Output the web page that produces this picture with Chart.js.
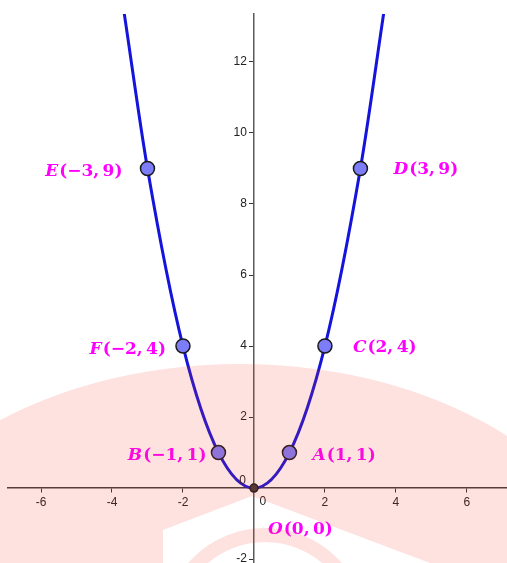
<!DOCTYPE html>
<html lang="en">
<head>
<meta charset="utf-8">
<title>y = x^2</title>
<script src="https://cdn.jsdelivr.net/npm/chart.js@4.4.1/dist/chart.umd.min.js"></script>
<style>
  html, body { margin: 0; padding: 0; background: #fff; }
  #wrap { width: 507px; height: 563px; position: relative; }
</style>
<script>

// marked points on the parabola
var pointNames = ['O', 'A', 'B', 'C', 'D', 'E', 'F'];
var pointX = [0, 1, -1, 2, 3, -3, -2];
var pointY = [0, 1, 1, 4, 9, 9, 4];

// the curve, read at the marked points and where it leaves the top edge
var curveX = [-3.66, -3, -2, -1, 0, 1, 2, 3, 3.66];
var curveY = [13.4, 9, 4, 1, 0, 1, 4, 9, 13.4];

// axes
var xTickValues = [-6, -4, -2, 0, 2, 4, 6];
var yTickValues = [-2, 0, 2, 4, 6, 8, 10, 12];
var xRange = [-6.93, 7.13];
var yRange = [-2.11, 13.35];

var MAGENTA = '#ff00ff';
var LABEL_FONT = '17px "DejaVu Serif"';
var TICK_FONT = '12px "Liberation Sans"';

// label placement: [side, dx, dy] in pixels from the point
var labelPlace = {
    O: ['left', 14, 42],
    A: ['left', 23, 3],
    B: ['right', -12, 3],
    C: ['left', 28, 2],
    D: ['left', 33, 1],
    E: ['right', -25, 3],
    F: ['right', -17, 4]
};

function fmt(v) {
    return v < 0 ? '\u2212' + (-v) : '' + v;
}

function drawLabel(ctx, i, x, y, side) {
    var name = pointNames[i];
    var rest = '(' + fmt(pointX[i]) + ',\u2009' + fmt(pointY[i]) + ')';
    ctx.font = 'italic bold ' + LABEL_FONT;
    var w1 = ctx.measureText(name).width;
    ctx.font = 'bold ' + LABEL_FONT;
    var w2 = ctx.measureText(rest).width;
    var left = side == 'right' ? x - w1 - w2 - 1 : x;
    ctx.fillStyle = MAGENTA;
    ctx.textBaseline = 'middle';
    ctx.textAlign = 'left';
    ctx.font = 'italic bold ' + LABEL_FONT;
    ctx.fillText(name, left, y);
    ctx.font = 'bold ' + LABEL_FONT;
    ctx.fillText(rest, left + w1 + 1, y);
}

// faint logo laid over the whole picture
function drawWatermark(ctx, w, h) {
    var off = document.createElement('canvas');
    off.width = w; off.height = h;
    var o = off.getContext('2d');
    o.fillStyle = 'rgb(242,60,41)';
    o.beginPath();
    o.ellipse(240, 620, 384, 256, 0, 0, Math.PI * 2);
    o.fill();
    o.globalCompositeOperation = 'destination-out';
    o.beginPath();
    o.moveTo(163, h); o.lineTo(163, 530); o.lineTo(252, 496); o.lineTo(430, h);
    o.closePath();
    o.fill();
    o.globalCompositeOperation = 'source-over';
    o.strokeStyle = 'rgb(242,60,41)';
    o.lineWidth = 14;
    o.beginPath();
    o.arc(265, 630, 95, Math.PI, Math.PI * 2);
    o.stroke();
    ctx.save();
    ctx.globalAlpha = 0.15;
    ctx.drawImage(off, 0, 0);
    ctx.restore();
}

var extras = {
    id: 'extras',
    afterDatasetsDraw: function (chart) {
        var ctx = chart.ctx;
        var xs = chart.scales.x, ys = chart.scales.y;
        ctx.save();
        for (var i = 0; i < pointNames.length; i++) {
            var p = labelPlace[pointNames[i]];
            var px = xs.getPixelForValue(pointX[i]);
            var py = ys.getPixelForValue(pointY[i]);
            drawLabel(ctx, i, px + p[1], py + p[2], p[0]);
        }
        var ox = xs.getPixelForValue(0), oy = ys.getPixelForValue(0);
        ctx.fillStyle = '#222';
        ctx.font = TICK_FONT;
        ctx.textBaseline = 'middle';
        // y tick labels left of the axis
        ctx.textAlign = 'right';
        yTickValues.forEach(function (v) {
            if (v == 0) return;
            ctx.fillText('' + v, ox - 7, ys.getPixelForValue(v));
        });
        // the two zero labels, shifted off the axes
        ctx.fillText('0', ox - 8, oy - 7);
        ctx.textAlign = 'center';
        ctx.fillText('0', ox + 9, oy + 14);
        ctx.restore();
    },
    afterDraw: function (chart) {
        drawWatermark(chart.ctx, chart.width, chart.height);
    }
};

function noPadding(s) {
    s.paddingLeft = 0; s.paddingRight = 0; s.paddingTop = 0; s.paddingBottom = 0;
}

function go() {
    var curve = [];
    for (var i = 0; i < curveX.length; i++) curve.push({ x: curveX[i], y: curveY[i] });
    var pts = [];
    for (var j = 0; j < pointNames.length; j++) pts.push({ x: pointX[j], y: pointY[j] });

    var ptColors = pointNames.map(function (n) { return n == 'O' ? '#3a3a3a' : 'rgb(125,125,250)'; });
    var ptRadius = pointNames.map(function (n) { return n == 'O' ? 4 : 7; });

    new Chart(document.getElementById('myChart'), {
        type: 'scatter',
        data: {
            datasets: [{
                data: pts,
                backgroundColor: ptColors,
                borderColor: '#1a1a1a',
                borderWidth: 1.5,
                pointRadius: ptRadius,
                pointHoverRadius: ptRadius,
                order: 0
            }, {
                data: curve,
                showLine: true,
                borderColor: '#1414dc',
                borderWidth: 3,
                pointRadius: 0,
                cubicInterpolationMode: 'monotone',
                order: 1
            }]
        },
        options: {
            animation: false,
            responsive: true,
            maintainAspectRatio: false,
            layout: { autoPadding: false, padding: { left: 8, top: 14, right: 0, bottom: 0 } },
            plugins: { legend: { display: false }, tooltip: { enabled: false } },
            scales: {
                x: {
                    type: 'linear',
                    position: { y: 0 },
                    min: xRange[0], max: xRange[1],
                    afterBuildTicks: function (s) { s.ticks = xTickValues.map(function (v) { return { value: v }; }); },
                    afterFit: noPadding,
                    ticks: {
                        font: { family: 'Liberation Sans', size: 12 }, color: '#222', padding: 3, maxRotation: 0,
                        callback: function (v) { return v == 0 ? '' : '' + v; }
                    },
                    grid: { display: true, drawOnChartArea: false, drawTicks: true, tickLength: 4, color: '#333', lineWidth: 1 },
                    border: { display: true, color: '#3c3c3c', width: 1.5 }
                },
                y: {
                    type: 'linear',
                    position: { x: 0 },
                    min: yRange[0], max: yRange[1],
                    afterBuildTicks: function (s) { s.ticks = yTickValues.map(function (v) { return { value: v }; }); },
                    afterFit: noPadding,
                    ticks: { display: false },
                    grid: { display: true, drawOnChartArea: false, drawTicks: true, tickLength: 4, color: '#333', lineWidth: 1 },
                    border: { display: true, color: '#5a5a5a', width: 1.5 }
                }
            }
        },
        plugins: [extras]
    });
}

</script>
</head>
<body onload="go();">
<div id="wrap"><canvas id="myChart"></canvas></div>
</body>
</html>
